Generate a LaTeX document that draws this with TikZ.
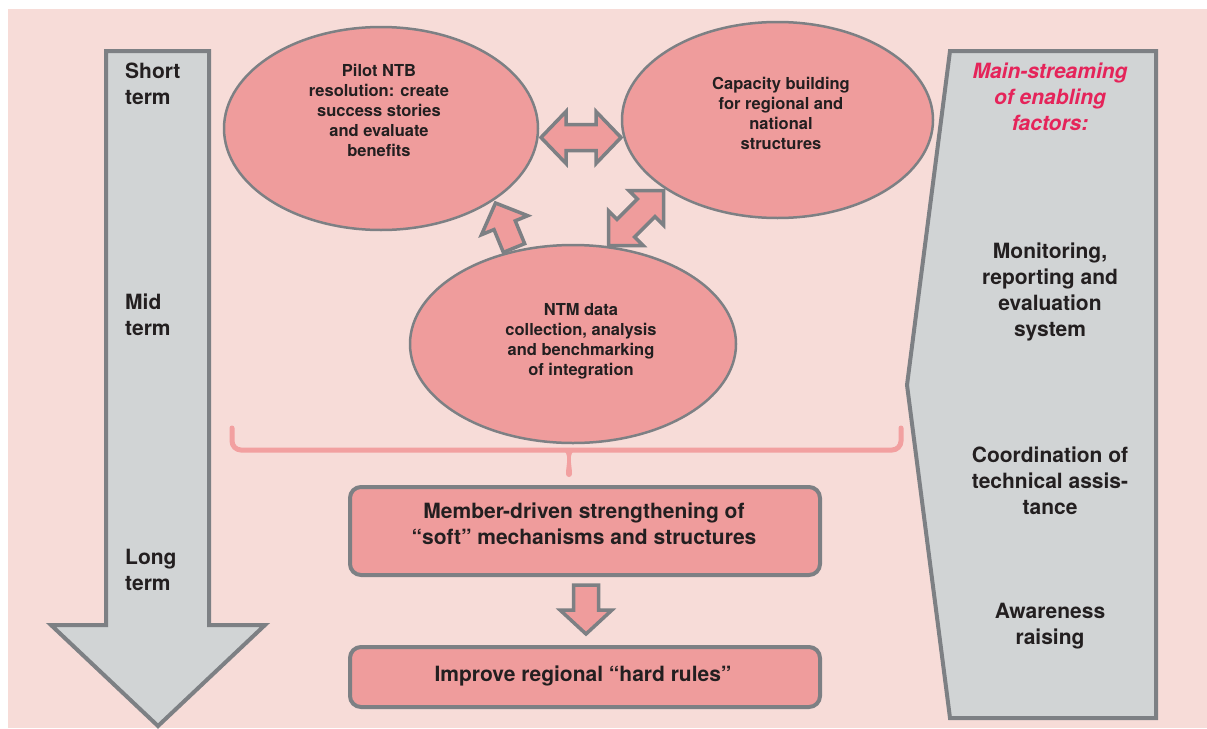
\documentclass[tikz,border=0pt]{standalone}
\usepackage{fontspec}
\setmainfont{TeX Gyre Heros}
\usetikzlibrary{shapes.geometric,calc}
\definecolor{bgpink}{HTML}{F7DCD8}
\definecolor{elfill}{HTML}{EF9C9C}
\definecolor{grayfill}{HTML}{D1D4D5}
\definecolor{edge}{HTML}{7D8084}
\definecolor{bracepink}{HTML}{F2A0A0}
\definecolor{headred}{HTML}{E5245A}
\definecolor{txt}{HTML}{231F20}
\newcommand{\blockarrowS}[5]{%
  \coordinate (hb) at ($(#2)!#4!(#1)$);
  \draw[blk] ($(#1)!#3!90:(#2)$) -- ($(hb)!#3!90:(#2)$) -- ($(hb)!#5!90:(#2)$) -- (#2)
    -- ($(hb)!#5!-90:(#2)$) -- ($(hb)!#3!-90:(#2)$) -- ($(#1)!#3!-90:(#2)$) -- cycle;}
\newcommand{\blockarrowD}[5]{%
  \coordinate (ha) at ($(#1)!#4!(#2)$);
  \coordinate (hb) at ($(#2)!#4!(#1)$);
  \draw[blk] (#1) -- ($(ha)!#5!90:(#2)$) -- ($(ha)!#3!90:(#2)$) -- ($(hb)!#3!90:(#2)$)
    -- ($(hb)!#5!90:(#2)$) -- (#2) -- ($(hb)!#5!-90:(#2)$) -- ($(hb)!#3!-90:(#2)$)
    -- ($(ha)!#3!-90:(#2)$) -- ($(ha)!#5!-90:(#2)$) -- cycle;}
\begin{document}
\begin{tikzpicture}[x=1pt,y=1pt,
  blk/.style={fill=elfill,draw=edge,line width=3.5pt,line join=miter},
  oval/.style={ellipse,fill=elfill,draw=edge,line width=2.5pt,inner sep=0pt},
  etext/.style={anchor=north,inner sep=0pt,align=center,text=txt,font=\bfseries\fontsize{16.5}{20}\selectfont},
  btext/.style={anchor=north,inner sep=0pt,align=center,text=txt,font=\bfseries\fontsize{21}{26}\selectfont},
  ltext/.style={anchor=north west,inner sep=0pt,align=left,text=txt,font=\bfseries\fontsize{21}{26}\selectfont},
  boxstyle/.style={rectangle,rounded corners=11pt,fill=elfill,draw=edge,line width=4pt,inner sep=0pt},
  graybox/.style={fill=grayfill,draw=edge,line width=4pt,line join=miter},
  bracestyle/.style={draw=bracepink,line width=5pt,rounded corners=9pt,line cap=round}]
\useasboundingbox (0,0) rectangle (1207,-728);
\fill[white] (0,0) rectangle (1207,-728);
\fill[bgpink] (8,-9) rectangle (1207,-728);

% left time arrow
\draw[graybox] (106,-51) -- (209,-51) -- (209,-625) -- (265,-625) -- (158,-726) -- (51,-625) -- (106,-625) -- cycle;
\node[ltext] (short) at (125,-63) {Short\\term};
\node[ltext] (mid) at (125,-294) {Mid\\term};
\node[ltext] (long) at (125,-549) {Long\\term};

% right panel
\draw[graybox] (950,-51) -- (1156,-51) -- (1156,-718) -- (950,-718) -- (907,-385) -- cycle;
\node[btext,text=headred,font=\bfseries\itshape\fontsize{21}{26}\selectfont] (main) at (1050,-63) {Main-streaming\\of enabling\\factors:};
\node[btext] (mon) at (1050,-243) {Monitoring,\\reporting and\\evaluation\\system};
\node[btext] (coord) at (1050,-447) {Coordination of\\technical assis-\\tance};
\node[btext] (aware) at (1050,-603) {Awareness\\raising};

% ellipses
\node[oval,minimum width=314pt,minimum height=203pt] (e1) at (381,-128.5) {};
\node[oval,minimum width=311pt,minimum height=196pt] (e2) at (777.5,-120) {};
\node[oval,minimum width=326pt,minimum height=198pt] (e3) at (573,-344) {};
\node[etext] (t1) at (379,-64) {Pilot NTB\\resolution: create\\success stories\\and evaluate\\benefits};
\node[etext] (t2) at (781,-77) {Capacity building\\for regional and\\national\\structures};
\node[etext] (t3) at (581,-303) {NTM data\\collection, analysis\\and benchmarking\\of integration};

% block arrows between ellipses
\coordinate (h1) at (541,-137.5);
\coordinate (h2) at (621,-137.5);
\blockarrowD{h1}{h2}{13pt}{25pt}{26pt}
\coordinate (d1) at (608.5,-245.5);
\coordinate (d2) at (663.5,-190.5);
\blockarrowD{d1}{d2}{12.5pt}{24.5pt}{24.5pt}
\coordinate (s1) at (514,-248);
\coordinate (s2) at (495.5,-203);
\blockarrowS{s1}{s2}{11.5pt}{24pt}{25pt}

% brace
\draw[bracestyle] (232,-428) -- (232,-450) -- (901,-450) -- (901,-428);
\coordinate (bt) at (569,-450);
\coordinate (bb) at (569,-474);
\fill[bracepink] ($(bt)+(-7,1)$) to[out=-30,in=90] ($(bb)+(-3,0)$) arc[start angle=180,end angle=360,radius=3] to[out=90,in=-150] ($(bt)+(7,1)$) -- cycle;

% bottom boxes
\node[boxstyle,minimum width=470pt,minimum height=88pt] (b1) at (585,-531) {};
\node[btext] (bt1) at (584,-503) {Member-driven strengthening of\\“soft” mechanisms and structures};
\node[boxstyle,minimum width=470pt,minimum height=60pt] (b2) at (585,-677) {};
\node[btext] (bt2) at (583,-666) {Improve regional “hard rules”};
\coordinate (v1) at ($(b1.south)+(1,-8)$);
\coordinate (v2) at ($(b1.south)+(1,-57)$);
\blockarrowS{v1}{v2}{12.5pt}{24pt}{26pt}
\end{tikzpicture}
\end{document}
